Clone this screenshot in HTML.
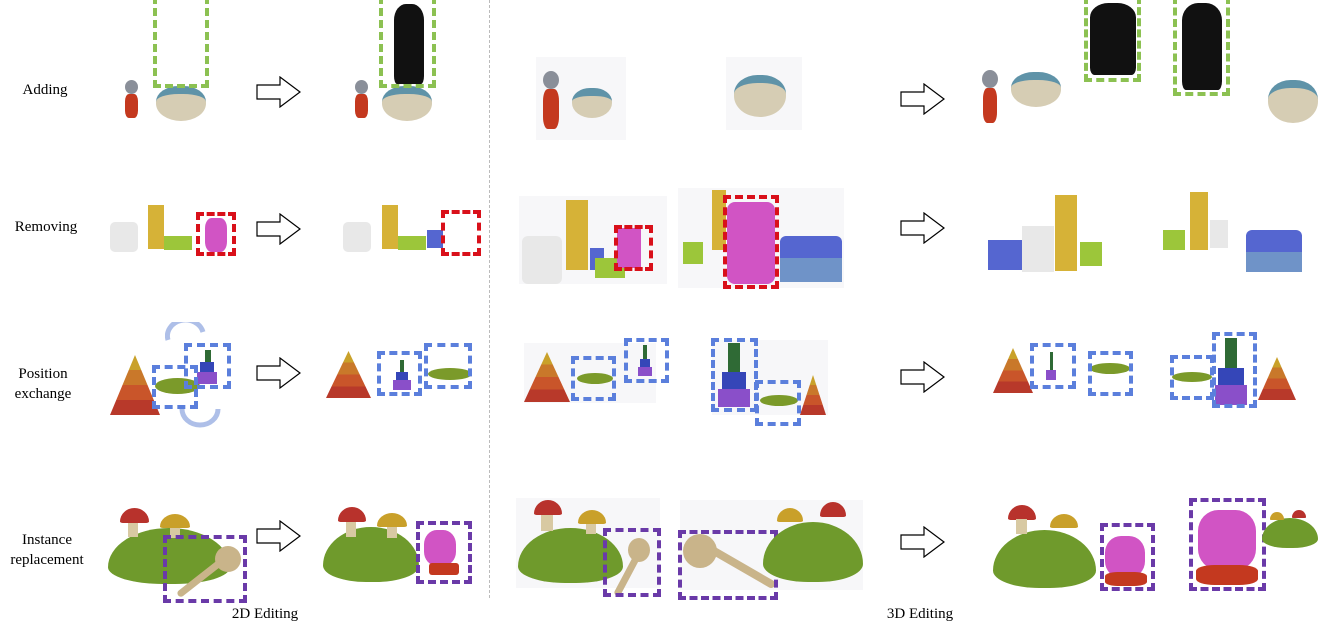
<!DOCTYPE html>
<html><head><meta charset="utf-8"><style>
body{margin:0;background:#fff;}
#fig{position:relative;width:1333px;height:630px;overflow:hidden;background:#fff;font-family:"Liberation Serif",serif;}
#fig div{position:absolute;box-sizing:border-box;}
.lbl{font-size:15px;color:#000;text-align:center;line-height:20px;}
.g{border:4px dashed #8cc152;}
.r{border:4px dashed #d9101a;}
.b{border:4px dashed #5b7fdc;}
.p{border:4px dashed #6a3aa8;}
.bg{background:#f7f7f9;}
.arrow{width:46px;height:32px;}
.cone{clip-path:polygon(50% 0,100% 100%,0 100%);background:linear-gradient(#c9a12a 0 25%,#c9782a 25% 50%,#c9552a 50% 75%,#b8392a 75%);}
.disc{background:#7b9a2a;border-radius:50%;}
.hill{background:#6f9a2c;border-radius:50% 50% 45% 45%/70% 70% 30% 30%;}
.capr{background:#b8322c;border-radius:50% 50% 10% 10%/90% 90% 10% 10%;}
.capy{background:#c9a02a;border-radius:50% 50% 10% 10%/90% 90% 10% 10%;}
.stem{background:#d8c9a2;}
.stick{background:#c9b48a;border-radius:4px;}
.ball{background:#c9b48a;border-radius:50%;}
.cat{background:#111;border-radius:40% 40% 10% 10%/20% 20% 10% 10%;}
.bowl{background:#d6cdb4;border-radius:45% 45% 50% 50%;border-top:8px solid #5f93a8;}
.head{background:#8a8f99;border-radius:50%;}
.body{background:#c4391f;border-radius:30%;}
.giraffe{background:#d6b237;}
.dog{background:#e8e8e8;}
.pink{background:#d154c4;}
.blue{background:#5566d0;}
.lblue{background:#6f93c8;}
.green{background:#9cc63a;}
.sg{background:#2f6a35;}
.sb{background:#3546b8;}
.sp{background:#8a4fc9;}
</style></head><body>
<div id="fig">

<div class="lbl" style="left:0;top:80px;width:90px;">Adding</div>
<div class="lbl" style="left:0;top:217px;width:92px;">Removing</div>
<div class="lbl" style="left:0;top:364px;width:86px;">Position<br>exchange</div>
<div class="lbl" style="left:0;top:530px;width:94px;">Instance<br>replacement</div>
<div class="lbl" style="left:225px;top:604px;width:80px;">2D Editing</div>
<div class="lbl" style="left:880px;top:604px;width:80px;">3D Editing</div>

<div style="left:489px;top:0;width:0;height:598px;border-left:1px dashed #bbb;"></div>

<!-- arrows -->
<svg style="position:absolute;left:256px;top:76px" width="46" height="32"><polygon points="1,9 24,9 24,1 44,16 24,31 24,23 1,23" fill="#fff" stroke="#000" stroke-width="1.2"/></svg>
<svg style="position:absolute;left:256px;top:213px" width="46" height="32"><polygon points="1,9 24,9 24,1 44,16 24,31 24,23 1,23" fill="#fff" stroke="#000" stroke-width="1.2"/></svg>
<svg style="position:absolute;left:256px;top:357px" width="46" height="32"><polygon points="1,9 24,9 24,1 44,16 24,31 24,23 1,23" fill="#fff" stroke="#000" stroke-width="1.2"/></svg>
<svg style="position:absolute;left:256px;top:520px" width="46" height="32"><polygon points="1,9 24,9 24,1 44,16 24,31 24,23 1,23" fill="#fff" stroke="#000" stroke-width="1.2"/></svg>
<svg style="position:absolute;left:900px;top:83px" width="46" height="32"><polygon points="1,9 24,9 24,1 44,16 24,31 24,23 1,23" fill="#fff" stroke="#000" stroke-width="1.2"/></svg>
<svg style="position:absolute;left:900px;top:212px" width="46" height="32"><polygon points="1,9 24,9 24,1 44,16 24,31 24,23 1,23" fill="#fff" stroke="#000" stroke-width="1.2"/></svg>
<svg style="position:absolute;left:900px;top:361px" width="46" height="32"><polygon points="1,9 24,9 24,1 44,16 24,31 24,23 1,23" fill="#fff" stroke="#000" stroke-width="1.2"/></svg>
<svg style="position:absolute;left:900px;top:526px" width="46" height="32"><polygon points="1,9 24,9 24,1 44,16 24,31 24,23 1,23" fill="#fff" stroke="#000" stroke-width="1.2"/></svg>

<!-- ROW 1 2D -->
<div class="head" style="left:125px;top:80px;width:13px;height:14px;"></div>
<div class="body" style="left:125px;top:94px;width:13px;height:24px;"></div>
<div class="bowl" style="left:156px;top:86px;width:50px;height:35px;"></div>
<div class="g" style="left:153px;top:-4px;width:56px;height:92px;"></div>
<div class="head" style="left:355px;top:80px;width:13px;height:14px;"></div>
<div class="body" style="left:355px;top:94px;width:13px;height:24px;"></div>
<div class="bowl" style="left:382px;top:86px;width:50px;height:35px;"></div>
<div class="cat" style="left:394px;top:4px;width:30px;height:80px;"></div>
<div class="g" style="left:379px;top:-4px;width:57px;height:92px;"></div>

<!-- ROW 1 3D -->
<div class="bg" style="left:536px;top:57px;width:90px;height:83px;"></div>
<div class="head" style="left:543px;top:71px;width:16px;height:18px;"></div>
<div class="body" style="left:543px;top:89px;width:16px;height:40px;"></div>
<div class="bowl" style="left:572px;top:88px;width:40px;height:30px;"></div>
<div class="bg" style="left:726px;top:57px;width:76px;height:73px;"></div>
<div class="bowl" style="left:734px;top:75px;width:52px;height:42px;"></div>
<div class="head" style="left:982px;top:70px;width:16px;height:18px;"></div>
<div class="body" style="left:983px;top:88px;width:14px;height:35px;"></div>
<div class="bowl" style="left:1011px;top:72px;width:50px;height:35px;"></div>
<div class="cat" style="left:1090px;top:3px;width:46px;height:72px;"></div>
<div class="g" style="left:1084px;top:-4px;width:57px;height:86px;"></div>
<div class="cat" style="left:1182px;top:3px;width:40px;height:87px;"></div>
<div class="g" style="left:1173px;top:-4px;width:57px;height:100px;"></div>
<div class="bowl" style="left:1268px;top:80px;width:50px;height:43px;"></div>

<!-- ROW 2 2D -->
<div class="dog" style="left:110px;top:222px;width:28px;height:30px;border-radius:5px;"></div>
<div class="giraffe" style="left:148px;top:205px;width:16px;height:44px;"></div>
<div class="green" style="left:164px;top:236px;width:28px;height:14px;"></div>
<div class="pink" style="left:205px;top:218px;width:22px;height:34px;border-radius:30%;"></div>
<div class="r" style="left:196px;top:212px;width:40px;height:44px;"></div>
<div class="dog" style="left:343px;top:222px;width:28px;height:30px;border-radius:5px;"></div>
<div class="giraffe" style="left:382px;top:205px;width:16px;height:44px;"></div>
<div class="green" style="left:398px;top:236px;width:28px;height:14px;"></div>
<div class="blue" style="left:427px;top:230px;width:16px;height:18px;"></div>
<div class="r" style="left:441px;top:210px;width:40px;height:46px;"></div>

<!-- ROW 2 3D -->
<div class="bg" style="left:519px;top:196px;width:148px;height:88px;"></div>
<div class="dog" style="left:522px;top:236px;width:40px;height:48px;border-radius:6px;"></div>
<div class="giraffe" style="left:566px;top:200px;width:22px;height:70px;"></div>
<div class="blue" style="left:590px;top:248px;width:14px;height:22px;"></div>
<div class="green" style="left:595px;top:258px;width:30px;height:20px;"></div>
<div class="pink" style="left:617px;top:228px;width:24px;height:40px;"></div>
<div class="r" style="left:614px;top:225px;width:39px;height:46px;"></div>
<div class="bg" style="left:678px;top:188px;width:166px;height:100px;"></div>
<div class="giraffe" style="left:712px;top:190px;width:14px;height:60px;"></div>
<div class="green" style="left:683px;top:242px;width:20px;height:22px;"></div>
<div class="pink" style="left:727px;top:202px;width:48px;height:82px;border-radius:8px;"></div>
<div class="blue" style="left:780px;top:236px;width:62px;height:22px;border-radius:6px 6px 0 0;"></div>
<div class="lblue" style="left:780px;top:258px;width:62px;height:24px;"></div>
<div class="r" style="left:723px;top:195px;width:56px;height:94px;"></div>
<div class="blue" style="left:988px;top:240px;width:34px;height:30px;"></div>
<div class="dog" style="left:1022px;top:226px;width:32px;height:46px;"></div>
<div class="giraffe" style="left:1055px;top:195px;width:22px;height:76px;"></div>
<div class="green" style="left:1080px;top:242px;width:22px;height:24px;"></div>
<div class="green" style="left:1163px;top:230px;width:22px;height:20px;"></div>
<div class="giraffe" style="left:1190px;top:192px;width:18px;height:58px;"></div>
<div class="dog" style="left:1210px;top:220px;width:18px;height:28px;"></div>
<div class="blue" style="left:1246px;top:230px;width:56px;height:22px;border-radius:6px 6px 0 0;"></div>
<div class="lblue" style="left:1246px;top:252px;width:56px;height:20px;"></div>

<!-- ROW 3 2D -->
<svg style="position:absolute;left:165px;top:322px" width="45" height="20"><path d="M3,18 A18,16 0 0 1 38,10" fill="none" stroke="#aebfe8" stroke-width="5"/></svg>
<svg style="position:absolute;left:178px;top:405px" width="45" height="25"><path d="M4,4 A18,16 0 0 0 40,4" fill="none" stroke="#aebfe8" stroke-width="5"/></svg>
<div class="cone" style="left:110px;top:355px;width:50px;height:60px;"></div>
<div class="disc" style="left:155px;top:378px;width:45px;height:16px;"></div>
<div class="sg" style="left:205px;top:350px;width:6px;height:12px;"></div>
<div class="sb" style="left:200px;top:362px;width:14px;height:10px;"></div>
<div class="sp" style="left:197px;top:372px;width:20px;height:12px;"></div>
<div class="b" style="left:152px;top:365px;width:46px;height:44px;"></div>
<div class="b" style="left:184px;top:343px;width:47px;height:46px;"></div>
<div class="cone" style="left:326px;top:351px;width:45px;height:47px;"></div>
<div class="sg" style="left:400px;top:360px;width:4px;height:12px;"></div>
<div class="sb" style="left:396px;top:372px;width:12px;height:8px;"></div>
<div class="sp" style="left:393px;top:380px;width:18px;height:10px;"></div>
<div class="disc" style="left:428px;top:368px;width:44px;height:12px;"></div>
<div class="b" style="left:377px;top:351px;width:45px;height:45px;"></div>
<div class="b" style="left:424px;top:343px;width:48px;height:46px;"></div>

<!-- ROW 3 3D -->
<div class="bg" style="left:524px;top:343px;width:132px;height:60px;"></div>
<div class="cone" style="left:524px;top:352px;width:46px;height:50px;"></div>
<div class="disc" style="left:577px;top:373px;width:36px;height:11px;"></div>
<div class="sg" style="left:643px;top:345px;width:4px;height:14px;"></div>
<div class="sb" style="left:640px;top:359px;width:10px;height:8px;"></div>
<div class="sp" style="left:638px;top:367px;width:14px;height:9px;"></div>
<div class="b" style="left:571px;top:356px;width:45px;height:45px;"></div>
<div class="b" style="left:624px;top:338px;width:45px;height:45px;"></div>
<div class="bg" style="left:712px;top:340px;width:116px;height:75px;"></div>
<div class="sg" style="left:728px;top:343px;width:12px;height:30px;"></div>
<div class="sb" style="left:722px;top:372px;width:24px;height:18px;"></div>
<div class="sp" style="left:718px;top:389px;width:32px;height:18px;"></div>
<div class="disc" style="left:760px;top:395px;width:38px;height:11px;"></div>
<div class="cone" style="left:800px;top:375px;width:26px;height:40px;"></div>
<div class="b" style="left:711px;top:338px;width:47px;height:74px;"></div>
<div class="b" style="left:755px;top:380px;width:46px;height:46px;"></div>
<div class="cone" style="left:993px;top:348px;width:40px;height:45px;"></div>
<div class="sg" style="left:1050px;top:352px;width:3px;height:18px;"></div>
<div class="sp" style="left:1046px;top:370px;width:10px;height:10px;"></div>
<div class="b" style="left:1030px;top:343px;width:46px;height:46px;"></div>
<div class="disc" style="left:1090px;top:363px;width:40px;height:11px;"></div>
<div class="b" style="left:1088px;top:351px;width:45px;height:45px;"></div>
<div class="disc" style="left:1172px;top:372px;width:40px;height:10px;"></div>
<div class="b" style="left:1170px;top:355px;width:44px;height:45px;"></div>
<div class="sg" style="left:1225px;top:338px;width:12px;height:32px;"></div>
<div class="sb" style="left:1218px;top:368px;width:26px;height:18px;"></div>
<div class="sp" style="left:1215px;top:385px;width:32px;height:20px;"></div>
<div class="b" style="left:1212px;top:332px;width:45px;height:76px;"></div>
<div class="cone" style="left:1258px;top:357px;width:38px;height:43px;"></div>

<!-- ROW 4 2D -->
<div class="hill" style="left:108px;top:528px;width:122px;height:56px;"></div>
<div class="stem" style="left:128px;top:522px;width:10px;height:15px;"></div>
<div class="capr" style="left:120px;top:508px;width:29px;height:15px;"></div>
<div class="stem" style="left:170px;top:526px;width:10px;height:12px;"></div>
<div class="capy" style="left:160px;top:514px;width:30px;height:14px;"></div>
<div class="stick" style="left:172px;top:574px;width:58px;height:7px;transform:rotate(-38deg);"></div>
<div class="ball" style="left:215px;top:546px;width:26px;height:26px;"></div>
<div class="p" style="left:163px;top:535px;width:84px;height:68px;"></div>
<div class="hill" style="left:323px;top:527px;width:96px;height:55px;"></div>
<div class="stem" style="left:346px;top:522px;width:10px;height:15px;"></div>
<div class="capr" style="left:338px;top:507px;width:28px;height:15px;"></div>
<div class="stem" style="left:387px;top:526px;width:10px;height:12px;"></div>
<div class="capy" style="left:377px;top:513px;width:30px;height:14px;"></div>
<div class="pink" style="left:424px;top:530px;width:32px;height:36px;border-radius:40%;"></div>
<div class="body" style="left:429px;top:563px;width:30px;height:12px;border-radius:3px;"></div>
<div class="p" style="left:416px;top:521px;width:56px;height:63px;"></div>

<!-- ROW 4 3D -->
<div class="bg" style="left:516px;top:498px;width:144px;height:90px;"></div>
<div class="hill" style="left:518px;top:528px;width:105px;height:55px;"></div>
<div class="capr" style="left:534px;top:500px;width:28px;height:15px;"></div>
<div class="stem" style="left:541px;top:515px;width:12px;height:16px;"></div>
<div class="capy" style="left:578px;top:510px;width:28px;height:14px;"></div>
<div class="stem" style="left:586px;top:524px;width:10px;height:10px;"></div>
<div class="stick" style="left:603px;top:570px;width:50px;height:7px;transform:rotate(-62deg);"></div>
<div class="ball" style="left:628px;top:538px;width:22px;height:24px;"></div>
<div class="p" style="left:603px;top:528px;width:58px;height:69px;"></div>
<div class="bg" style="left:680px;top:500px;width:183px;height:90px;"></div>
<div class="ball" style="left:683px;top:534px;width:34px;height:34px;"></div>
<div class="stick" style="left:700px;top:562px;width:80px;height:8px;transform:rotate(30deg);"></div>
<div class="p" style="left:678px;top:530px;width:100px;height:70px;"></div>
<div class="hill" style="left:763px;top:522px;width:100px;height:60px;"></div>
<div class="capy" style="left:777px;top:508px;width:26px;height:14px;"></div>
<div class="capr" style="left:820px;top:502px;width:26px;height:15px;"></div>
<div class="hill" style="left:993px;top:530px;width:103px;height:58px;"></div>
<div class="capr" style="left:1008px;top:505px;width:28px;height:15px;"></div>
<div class="stem" style="left:1016px;top:519px;width:11px;height:15px;"></div>
<div class="capy" style="left:1050px;top:514px;width:28px;height:14px;"></div>
<div class="pink" style="left:1105px;top:536px;width:40px;height:42px;border-radius:40%;"></div>
<div class="body" style="left:1105px;top:572px;width:42px;height:14px;"></div>
<div class="p" style="left:1100px;top:523px;width:55px;height:68px;"></div>
<div class="pink" style="left:1198px;top:510px;width:58px;height:60px;border-radius:35%;"></div>
<div class="body" style="left:1196px;top:565px;width:62px;height:20px;"></div>
<div class="p" style="left:1189px;top:498px;width:77px;height:93px;"></div>
<div class="hill" style="left:1262px;top:518px;width:56px;height:30px;"></div>
<div class="capy" style="left:1270px;top:512px;width:14px;height:8px;"></div>
<div class="capr" style="left:1292px;top:510px;width:14px;height:8px;"></div>

</div>
</body></html>
